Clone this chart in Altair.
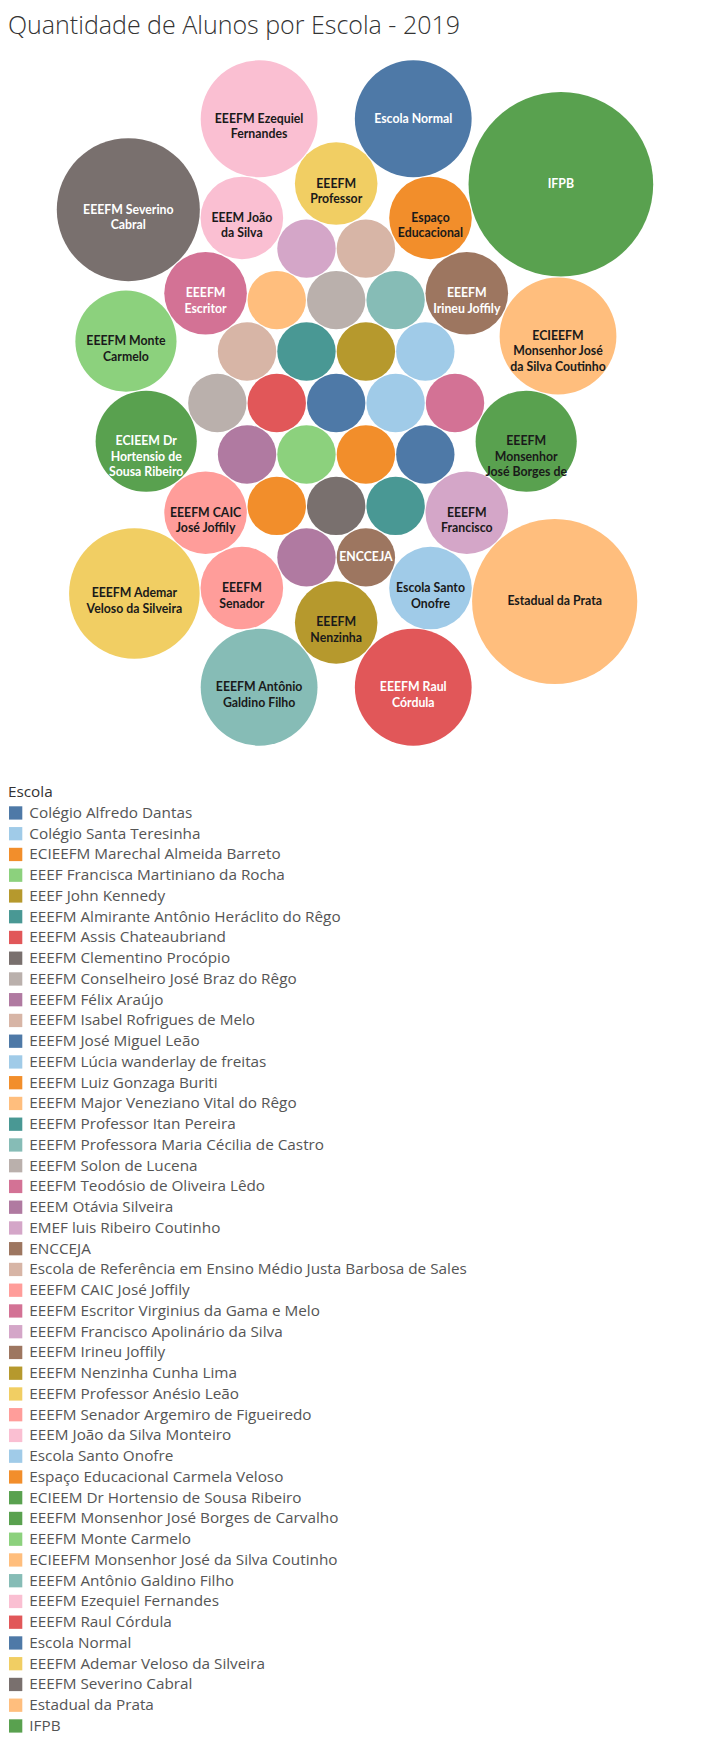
import math
import unicodedata
import altair as alt
import pandas as pd

# ---- data (legend order = ascending number of students) ----
schools = [
    "Colégio Alfredo Dantas", "Colégio Santa Teresinha", "ECIEEFM Marechal Almeida Barreto",
    "EEEF Francisca Martiniano da Rocha", "EEEF John Kennedy", "EEEFM Almirante Antônio Heráclito do Rêgo",
    "EEEFM Assis Chateaubriand", "EEEFM Clementino Procópio", "EEEFM Conselheiro José Braz do Rêgo",
    "EEEFM Félix Araújo", "EEEFM Isabel Rofrigues de Melo", "EEEFM José Miguel Leão",
    "EEEFM Lúcia wanderlay de freitas", "EEEFM Luiz Gonzaga Buriti", "EEEFM Major Veneziano Vital do Rêgo",
    "EEEFM Professor Itan Pereira", "EEEFM Professora Maria Cécilia de Castro", "EEEFM Solon de Lucena",
    "EEEFM Teodósio de Oliveira Lêdo", "EEEM Otávia Silveira", "EMEF luis Ribeiro Coutinho", "ENCCEJA",
    "Escola de Referência em Ensino Médio Justa Barbosa de Sales", "EEEFM CAIC José Joffily",
    "EEEFM Escritor Virginius da Gama e Melo", "EEEFM Francisco Apolinário da Silva", "EEEFM Irineu Joffily",
    "EEEFM Nenzinha Cunha Lima", "EEEFM Professor Anésio Leão", "EEEFM Senador Argemiro de Figueiredo",
    "EEEM João da Silva Monteiro", "Escola Santo Onofre", "Espaço Educacional Carmela Veloso",
    "ECIEEM Dr Hortensio de Sousa Ribeiro", "EEEFM Monsenhor José Borges de Carvalho", "EEEFM Monte Carmelo",
    "ECIEEFM Monsenhor José da Silva Coutinho", "EEEFM Antônio Galdino Filho", "EEEFM Ezequiel Fernandes",
    "EEEFM Raul Córdula", "Escola Normal", "EEEFM Ademar Veloso da Silveira", "EEEFM Severino Cabral",
    "Estadual da Prata", "IFPB",
]
alunos = [1] * 23 + [2] * 10 + [3] * 3 + [4] * 5 + [5, 6, 8, 10]

labels = {
    "IFPB": "IFPB",
    "Estadual da Prata": "Estadual da Prata",
    "EEEFM Severino Cabral": "EEEFM Severino\nCabral",
    "EEEFM Ademar Veloso da Silveira": "EEEFM Ademar\nVeloso da Silveira",
    "Escola Normal": "Escola Normal",
    "EEEFM Raul Córdula": "EEEFM Raul\nCórdula",
    "EEEFM Ezequiel Fernandes": "EEEFM Ezequiel\nFernandes",
    "EEEFM Antônio Galdino Filho": "EEEFM Antônio\nGaldino Filho",
    "ECIEEFM Monsenhor José da Silva Coutinho": "ECIEEFM\nMonsenhor José\nda Silva Coutinho",
    "EEEFM Monte Carmelo": "EEEFM Monte\nCarmelo",
    "EEEFM Monsenhor José Borges de Carvalho": "EEEFM\nMonsenhor\nJosé Borges de",
    "ECIEEM Dr Hortensio de Sousa Ribeiro": "ECIEEM Dr\nHortensio de\nSousa Ribeiro",
    "Espaço Educacional Carmela Veloso": "Espaço\nEducacional",
    "Escola Santo Onofre": "Escola Santo\nOnofre",
    "EEEM João da Silva Monteiro": "EEEM João\nda Silva",
    "EEEFM Senador Argemiro de Figueiredo": "EEEFM\nSenador",
    "EEEFM Professor Anésio Leão": "EEEFM\nProfessor",
    "EEEFM Nenzinha Cunha Lima": "EEEFM\nNenzinha",
    "EEEFM Irineu Joffily": "EEEFM\nIrineu Joffily",
    "EEEFM Francisco Apolinário da Silva": "EEEFM\nFrancisco",
    "EEEFM Escritor Virginius da Gama e Melo": "EEEFM\nEscritor",
    "EEEFM CAIC José Joffily": "EEEFM CAIC\nJosé Joffily",
    "ENCCEJA": "ENCCEJA",
}

# ---- styles ----
tableau20 = ["#4e79a7", "#a0cbe8", "#f28e2b", "#ffbe7d", "#59a14f", "#8cd17d", "#b6992d",
             "#f1ce63", "#499894", "#86bcb6", "#e15759", "#ff9d9a", "#79706e", "#bab0ac",
             "#d37295", "#fabfd2", "#b07aa1", "#d4a6c8", "#9d7660", "#d7b5a6"]
white_text = {"IFPB", "Escola Normal", "EEEFM Raul Córdula", "EEEFM Irineu Joffily", "ENCCEJA",
              "ECIEEM Dr Hortensio de Sousa Ribeiro", "EEEFM Escritor Virginius da Gama e Melo",
              "EEEFM Severino Cabral"}


def sort_key(s):
    s = unicodedata.normalize("NFD", s)
    return "".join(c for c in s if not unicodedata.combining(c)).casefold()


alpha = sorted(schools, key=sort_key)
colors = [tableau20[alpha.index(s) % 20] for s in schools]


# ---- packed-bubble layout (ascending order, greedy closest to centre) ----
def pack(values, aspect, gap=0.035):
    rs = [math.sqrt(v) for v in values]
    pos = [(0.0, 0.0)]
    for i in range(1, len(rs)):
        r = rs[i]
        if i == 1:
            pos.append((rs[0] + r + gap, 0.0))
            continue
        cands = []
        for j in range(i):
            xj, yj = pos[j]
            dj = rs[j] + r + gap
            for k in range(j + 1, i):
                xk, yk = pos[k]
                dk = rs[k] + r + gap
                dx, dy = xk - xj, yk - yj
                d = math.hypot(dx, dy)
                if d == 0 or d > dj + dk or d < abs(dj - dk):
                    continue
                a = (dj * dj - dk * dk + d * d) / (2 * d)
                h = math.sqrt(max(dj * dj - a * a, 0.0))
                mx, my = xj + a * dx / d, yj + a * dy / d
                for sgn in (1, -1):
                    px, py = mx - sgn * h * dy / d, my + sgn * h * dx / d
                    cands.append(((px * aspect) ** 2 + py ** 2, px, py))
        cands.sort()
        for _, px, py in cands:
            if all(math.hypot(px - pos[m][0], py - pos[m][1]) >= rs[m] + r + gap - 1e-7 for m in range(i)):
                pos.append((px, py))
                break
    return rs, pos


def bbox(rs, pos):
    return (min(p[0] - r for p, r in zip(pos, rs)), max(p[0] + r for p, r in zip(pos, rs)),
            min(p[1] - r for p, r in zip(pos, rs)), max(p[1] + r for p, r in zip(pos, rs)))


# pick the anisotropy giving a tall cluster like the original view (about 640 x 736 px)
best = None
for asp in [1.0, 1.1, 1.2, 1.3, 1.4, 1.5]:
    rs_, pos_ = pack(alunos, asp)
    x0, x1, y0, y1 = bbox(rs_, pos_)
    err = abs((y1 - y0) / (x1 - x0) - 1.15) + 0.002 * (x1 - x0) * (y1 - y0)
    if best is None or err < best[0]:
        best = (err, rs_, pos_)
_, rs, pos = best

# orient so that the largest bubble sits at the top right
x0, x1, y0, y1 = bbox(rs, pos)
xc, yc = (x0 + x1) / 2, (y0 + y1) / 2
big = alunos.index(max(alunos))
sx = 1 if pos[big][0] >= xc else -1
sy = 1 if pos[big][1] >= yc else -1
xs = [sx * (p[0] - xc) for p in pos]
ys = [sy * (p[1] - yc) for p in pos]

df = pd.DataFrame({
    "Escola": schools,
    "Alunos": alunos,
    "x": xs,
    "y": ys,
    "Rotulo": [labels.get(s, "") for s in schools],
    "Branco": [s in white_text for s in schools],
})

# ---- pixel mapping ----
W, H = 705, 738
ppu = 29.2  # pixels per unit radius
tx, ty = 347, 364  # centre of the bubble cluster in plot coordinates
xdom = [-tx / ppu, (W - tx) / ppu]
ydom = [(ty - H) / ppu, ty / ppu]

xenc = alt.X("x:Q", scale=alt.Scale(domain=xdom, nice=False, zero=False), axis=None)
yenc = alt.Y("y:Q", scale=alt.Scale(domain=ydom, nice=False, zero=False), axis=None)

circles = alt.Chart(df).mark_circle(opacity=1).encode(
    x=xenc,
    y=yenc,
    size=alt.Size("Alunos:Q", scale=alt.Scale(type="linear", domain=[0, 10], range=[0, 4 * ppu * ppu * 10], zero=True), legend=None),
    color=alt.Color(
        "Escola:N",
        scale=alt.Scale(domain=schools, range=colors),
        sort=schools,
        legend=alt.Legend(
            title="Escola", orient="none", legendX=0, legendY=H + 8,
            direction="vertical", columns=1, symbolType="square", symbolSize=177,
            symbolStrokeWidth=0, labelFontSize=15.3, labelFont="Open Sans", labelColor="#555555",
            titleFontSize=15.3, titleFont="Open Sans", titleFontWeight="normal", titleColor="#333333",
            titlePadding=5, rowPadding=4.75, labelLimit=700, symbolLimit=100, labelOffset=6,
        ),
    ),
    tooltip=["Escola:N", "Alunos:Q"],
)

text_style = dict(font="Lato", fontWeight="bold", fontSize=12.3, lineBreak="\n", lineHeight=15.5,
                  align="center", baseline="middle")
text_dark = alt.Chart(df).transform_filter(
    "datum.Rotulo != '' && !datum.Branco"
).mark_text(color="#1a1a1a", **text_style).encode(x=xenc, y=yenc, text="Rotulo:N")

text_light = alt.Chart(df).transform_filter(
    "datum.Rotulo != '' && datum.Branco"
).mark_text(color="#ffffff", **text_style).encode(x=xenc, y=yenc, text="Rotulo:N")

chart = alt.layer(circles, text_dark, text_light).properties(
    width=W, height=H,
    title=alt.TitleParams("Quantidade de Alunos por Escola - 2019", anchor="start", fontSize=25,
                          font="Open Sans", fontWeight=300, color="#333333", offset=0),
).configure(padding={"top": 6, "left": 0, "right": 0, "bottom": 0}).configure_view(stroke=None)

chart.save("out.html", embed_options={"renderer": "svg", "actions": False})
